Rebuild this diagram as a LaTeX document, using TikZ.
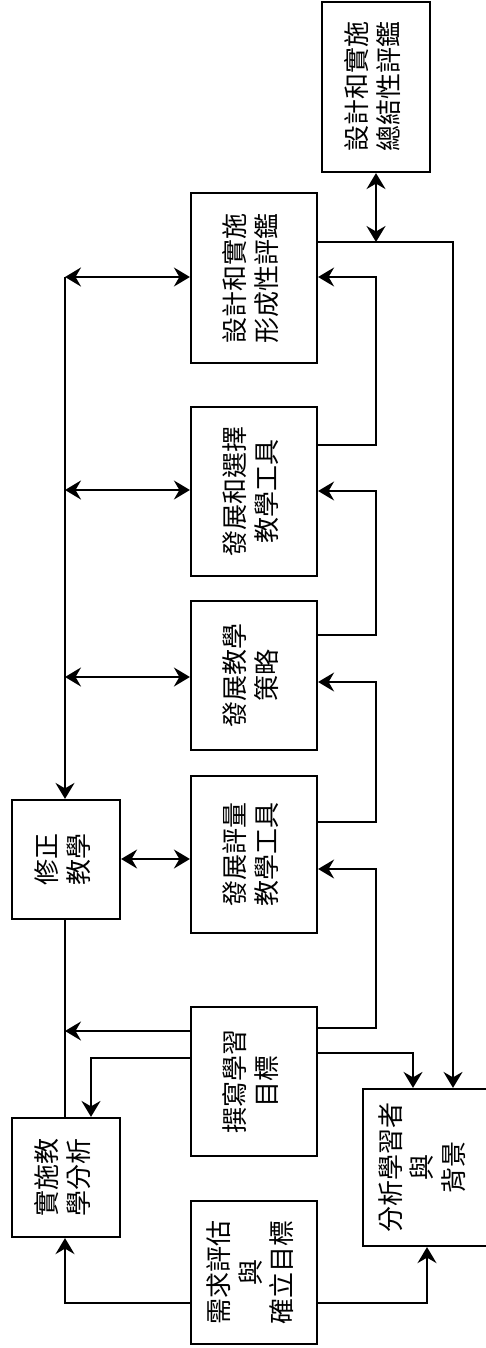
\documentclass[tikz,border=0pt]{standalone}
\usepackage{fontspec}
\newfontfamily\cjk{Noto Sans CJK TC}
\usetikzlibrary{arrows.meta}
\tikzset{
  box/.style={draw, line width=2.2pt, rectangle, inner sep=0pt, font=\cjk\fontsize{26}{31.5}\selectfont},
  conn/.style={line width=2.1pt},
  tip/.tip={Stealth[length=16pt,width=19pt,inset=5.5pt]},
  arr/.style={conn, -tip},
  darr/.style={conn, tip-tip}
}
\newcommand{\vtext}[1]{\rotatebox{90}{\begin{tabular}{@{}c@{}}#1\end{tabular}}}
\begin{document}
\begin{tikzpicture}[x=1pt,y=-1pt]
\useasboundingbox (0,0) rectangle (485,1348);
% boxes: center = ((l+r)/2,(t+b)/2), size = (r-l, b-t)
\node[box, minimum width=108pt, minimum height=170pt] (sum)   at (376,87)    {\vtext{設計和實施\\總結性評鑑}};
\node[box, minimum width=126pt, minimum height=170pt] (form)  at (254,278)   {\vtext{設計和實施\\形成性評鑑}};
\node[box, minimum width=126pt, minimum height=169pt] (sel)   at (254,491.5) {\vtext{發展和選擇\\教學工具}};
\node[box, minimum width=126pt, minimum height=149pt] (strat) at (254,675.5) {\vtext{發展教學\\策略}};
\node[box, minimum width=108pt, minimum height=119pt] (rev)   at (66,859.5)  {\vtext{修正\\教學}};
\node[box, minimum width=126pt, minimum height=157pt] (meas)  at (254,854.5) {\vtext{發展評量\\教學工具}};
\node[box, minimum width=126pt, minimum height=149pt] (obj)   at (254,1081.5){\vtext{撰寫學習\\目標}};
\node[box, minimum width=108pt, minimum height=119pt] (impl)  at (66,1177.5) {\vtext{實施教\\學分析}};
\node[box, minimum width=125pt, minimum height=157pt] (learn) at (425.5,1167.5){\vtext{分析學習者\\與\\背景}};
\node[box, minimum width=126pt, minimum height=143pt] (need)  at (254,1272.5){\vtext{需求評估\\與\\確立目標}};

% helper coordinates
\coordinate (top) at (65,277);
\coordinate (hub) at (376,242);

% summative <-> formative loop
\draw[darr] (sum.south) -- (hub);
\draw[arr] (form.east |- hub) -- (453,242) -- (learn.north -| 453,0);

% right-side feed chain
\draw[arr] (sel.east |- 0,445) -- (376,445) -- (376,277) -- (form.east |- 0,277);
\draw[arr] (strat.east |- 0,635) -- (376,635) -- (376,491) -- (sel.east |- 0,491);
\draw[arr] (meas.east |- 0,822) -- (376,822) -- (376,682) -- (strat.east |- 0,682);
\draw[arr] (obj.east |- 0,1028) -- (376,1028) -- (376,869) -- (meas.east |- 0,869);

% left revision spine
\draw[darr] (top) -- (form.west |- top);
\draw[darr] (65,490) -- (sel.west |- 0,490);
\draw[darr] (65,677) -- (strat.west |- 0,677);
\draw[darr] (rev.east |- 0,859) -- (meas.west |- 0,859);
\draw[arr] (top) -- (rev.north -| top);
\draw[conn] (rev.south -| top) -- (impl.north -| top);

% objectives outputs
\draw[arr] (obj.west |- 0,1031) -- (65,1031);
\draw[arr] (obj.west |- 0,1058) -- (91,1058) -- (impl.north -| 91,0);
\draw[arr] (obj.east |- 0,1053) -- (413,1053) -- (learn.north -| 413,0);

% needs assessment outputs
\draw[arr] (need.west |- 0,1303) -- (65,1303) -- (impl.south -| 65,0);
\draw[arr] (need.east |- 0,1303) -- (427,1303) -- (learn.south -| 427,0);
\end{tikzpicture}
\end{document}
